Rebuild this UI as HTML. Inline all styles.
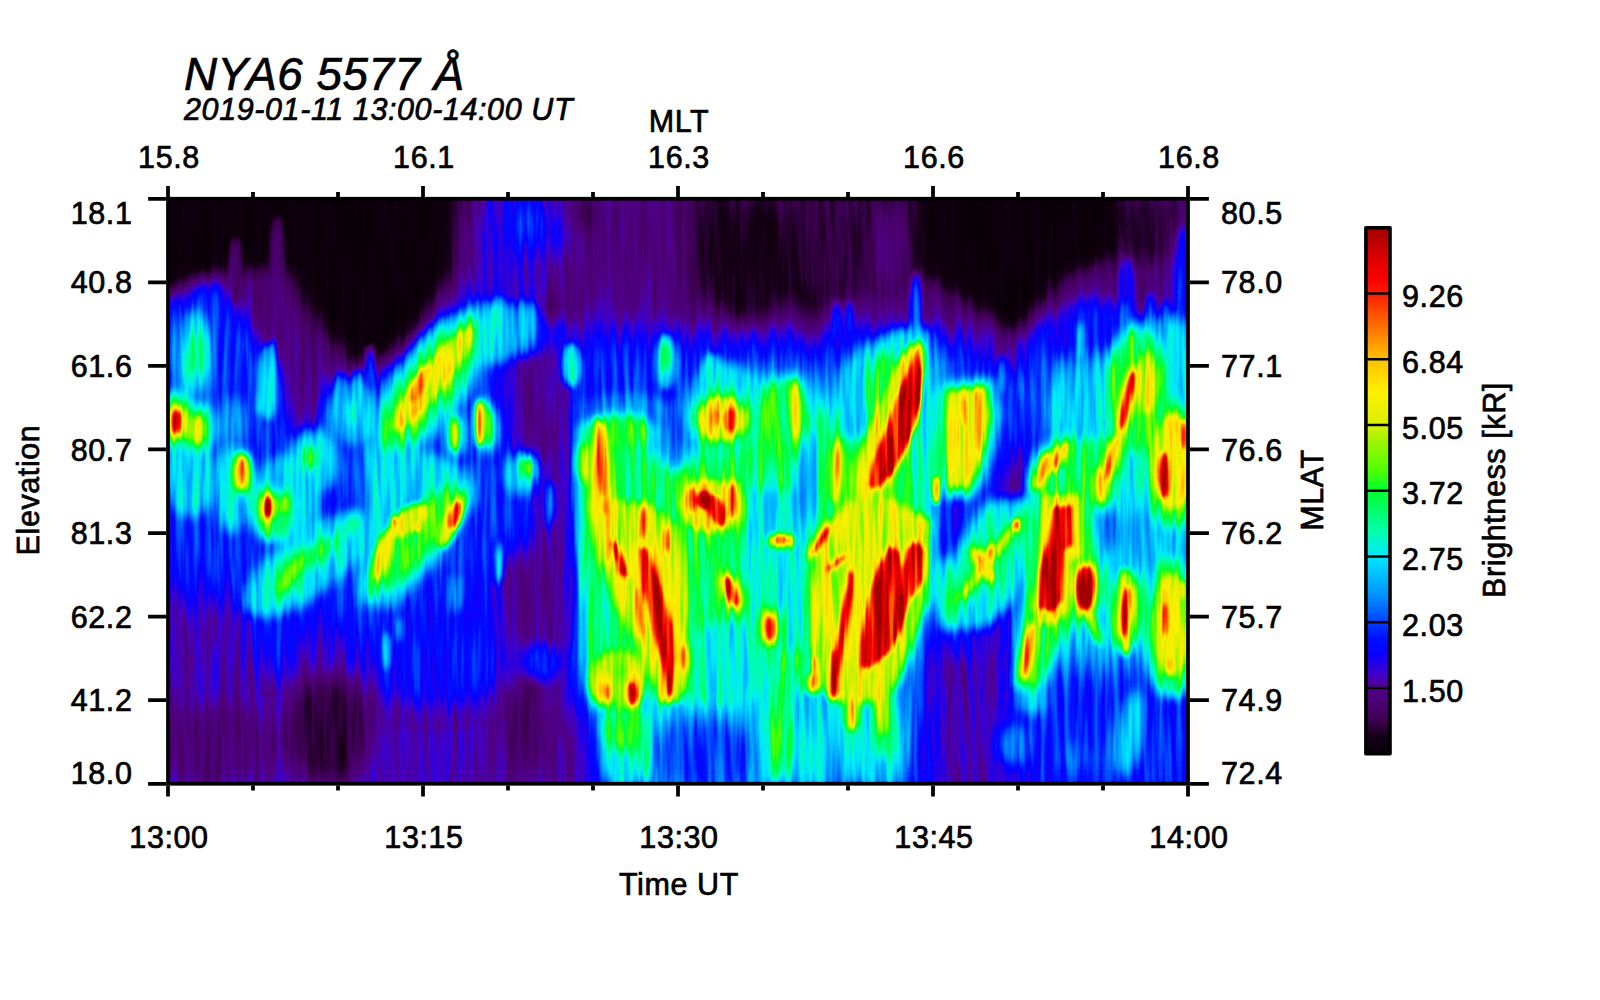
<!DOCTYPE html>
<html lang="en"><head><meta charset="utf-8"><title>NYA6 5577 keogram</title>
<style>html,body{margin:0;padding:0;background:#fff}body{width:1600px;height:1000px;overflow:hidden}svg{display:block}text{font-family:"Liberation Sans", sans-serif;fill:#000;stroke:#000;stroke-width:0.7px;letter-spacing:0.6px}</style></head><body>
<svg width="1600" height="1000" viewBox="0 0 1600 1000">
<rect width="1600" height="1000" fill="#fff"/>
<defs>
<filter id="cm" x="0" y="0" width="1" height="1" color-interpolation-filters="sRGB">
<feTurbulence type="fractalNoise" baseFrequency="0.17 0.011" numOctaves="2" seed="7" result="n0"/>
<feColorMatrix in="n0" type="matrix" values="2.2 0 0 0 -0.6 2.2 0 0 0 -0.6 2.2 0 0 0 -0.6 0 0 0 0 1" result="n1"/>
<feComposite in="SourceGraphic" in2="n1" operator="arithmetic" k1="0.24" k2="0.88" k3="0.025" k4="-0.0125" result="f"/>
<feComponentTransfer in="f"><feFuncR type="table" tableValues="0.039 0.060 0.084 0.158 0.225 0.262 0.293 0.303 0.314 0.284 0.230 0.138 0.046 0.018 0.001 0.000 0.000 0.000 0.000 0.000 0.000 0.000 0.000 0.000 0.000 0.000 0.000 0.000 0.000 0.000 0.000 0.000 0.000 0.123 0.245 0.353 0.443 0.533 0.623 0.729 0.847 0.884 0.921 0.957 0.994 1.000 1.000 1.000 1.000 1.000 1.000 1.000 1.000 1.000 1.000 1.000 1.000 1.000 0.981 0.934 0.886 0.824 0.758 0.693 0.627"/><feFuncG type="table" tableValues="0.000 0.000 0.000 0.000 0.000 0.000 0.000 0.000 0.000 0.000 0.000 0.000 0.000 0.027 0.060 0.153 0.251 0.349 0.447 0.545 0.622 0.694 0.766 0.838 0.910 0.941 0.972 1.000 1.000 1.000 1.000 1.000 1.000 1.000 1.000 0.995 0.984 0.973 0.961 0.951 0.941 0.941 0.941 0.941 0.941 0.900 0.851 0.802 0.753 0.675 0.596 0.518 0.437 0.355 0.273 0.192 0.118 0.044 0.000 0.000 0.000 0.000 0.000 0.000 0.000"/><feFuncB type="table" tableValues="0.031 0.056 0.087 0.198 0.301 0.371 0.435 0.484 0.533 0.690 0.818 0.902 0.987 1.000 1.000 1.000 1.000 1.000 1.000 1.000 1.000 1.000 1.000 1.000 1.000 0.892 0.785 0.678 0.580 0.482 0.384 0.286 0.188 0.115 0.041 0.000 0.000 0.000 0.000 0.000 0.000 0.000 0.000 0.000 0.000 0.000 0.000 0.000 0.000 0.000 0.000 0.000 0.000 0.000 0.000 0.000 0.000 0.000 0.000 0.000 0.000 0.000 0.000 0.000 0.000"/></feComponentTransfer></filter>
<filter id="b2" x="-10%" y="-10%" width="120%" height="120%" filterUnits="objectBoundingBox" color-interpolation-filters="sRGB"><feGaussianBlur stdDeviation="2"/></filter>
<filter id="b3" x="-10%" y="-10%" width="120%" height="120%" filterUnits="objectBoundingBox" color-interpolation-filters="sRGB"><feGaussianBlur stdDeviation="3"/></filter>
<filter id="b4" x="-10%" y="-10%" width="120%" height="120%" filterUnits="objectBoundingBox" color-interpolation-filters="sRGB"><feGaussianBlur stdDeviation="4"/></filter>
<filter id="b6" x="-10%" y="-10%" width="120%" height="120%" filterUnits="objectBoundingBox" color-interpolation-filters="sRGB"><feGaussianBlur stdDeviation="6"/></filter>
<filter id="b10" x="-10%" y="-10%" width="120%" height="120%" filterUnits="objectBoundingBox" color-interpolation-filters="sRGB"><feGaussianBlur stdDeviation="10"/></filter>
<filter id="b18" x="-10%" y="-10%" width="120%" height="120%" filterUnits="objectBoundingBox" color-interpolation-filters="sRGB"><feGaussianBlur stdDeviation="18"/></filter>
<filter id="b28" x="-10%" y="-10%" width="120%" height="120%" filterUnits="objectBoundingBox" color-interpolation-filters="sRGB"><feGaussianBlur stdDeviation="28"/></filter>
<clipPath id="hc"><rect x="168" y="198.75" width="1020" height="585"/></clipPath>
<linearGradient id="cb" x1="0" y1="1" x2="0" y2="0">
<stop offset="0.0000" stop-color="#0a0008"/>
<stop offset="0.0300" stop-color="#140014"/>
<stop offset="0.0600" stop-color="#38004a"/>
<stop offset="0.0900" stop-color="#4a006c"/>
<stop offset="0.1250" stop-color="#500088"/>
<stop offset="0.1500" stop-color="#4400c8"/>
<stop offset="0.1900" stop-color="#0800ff"/>
<stop offset="0.2200" stop-color="#0010ff"/>
<stop offset="0.2500" stop-color="#0040ff"/>
<stop offset="0.3000" stop-color="#0090ff"/>
<stop offset="0.3750" stop-color="#00e8ff"/>
<stop offset="0.4200" stop-color="#00ffb0"/>
<stop offset="0.5000" stop-color="#00ff30"/>
<stop offset="0.5400" stop-color="#50ff00"/>
<stop offset="0.6000" stop-color="#a8f400"/>
<stop offset="0.6250" stop-color="#d8f000"/>
<stop offset="0.6900" stop-color="#fff000"/>
<stop offset="0.7500" stop-color="#ffc000"/>
<stop offset="0.8000" stop-color="#ff8000"/>
<stop offset="0.8600" stop-color="#ff3000"/>
<stop offset="0.9000" stop-color="#ff0000"/>
<stop offset="0.9400" stop-color="#e00000"/>
<stop offset="1.0000" stop-color="#a00000"/>
</linearGradient>
</defs>
<g clip-path="url(#hc)"><g filter="url(#cm)">
<rect x="150" y="180" width="1060" height="625" fill="#242424"/>
<g filter="url(#b18)"><rect x="60" y="90" width="1240" height="800" fill="none"/>
<polygon points="150,180 1210,180 1210,335 150,335" fill="#1a1a1a"/>
<polygon points="150,300 200,285 250,300 300,345 345,385 390,350 440,300 470,280 560,300 560,335 1210,335 1210,420 560,420 545,470 545,540 505,560 500,640 490,680 430,690 375,680 340,625 300,622 285,655 262,655 250,598 150,590" fill="#3c3c3c"/>
<polygon points="556,180 680,180 680,335 556,335" fill="#1d1d1d"/>
<ellipse cx="517" cy="226" rx="40" ry="46" fill="#343434"/>
<ellipse cx="503" cy="288" rx="34" ry="30" fill="#292929"/>
<polygon points="580,415 640,412 650,440 695,445 700,395 760,385 800,380 800,420 820,420 830,400 870,360 930,350 935,430 932,560 922,630 900,690 860,705 800,700 700,700 640,715 598,715 582,640 577,520" fill="#7a7a7a"/>
<polygon points="1030,400 1080,350 1130,330 1210,330 1210,665 1120,660 1040,680 1015,640 1030,560 1060,500 1040,450" fill="#5c5c5c"/>
<polygon points="598,700 920,690 915,800 600,800" fill="#575757"/>
<polygon points="1005,665 1210,660 1210,800 1005,800" fill="#3b3b3b"/>
<polygon points="922,622 1003,622 1008,800 920,800" fill="#242424"/>
</g>
<g filter="url(#b10)"><rect x="60" y="90" width="1240" height="800" fill="none"/>
<ellipse cx="528" cy="222" rx="8" ry="14" fill="#454545"/>
<polygon points="222,282 250,328 282,372 292,430 306,436 322,410 328,372 365,376 398,362 432,328 445,300 300,285" fill="#1c1c1c"/>
<polygon points="150,180 462,180 456,262 438,300 412,330 385,355 362,368 340,352 318,325 300,295 292,272 264,266 250,272 222,270 205,284 175,294 150,296" fill="#020202"/>
<polygon points="921,180 1122,180 1117,256 1100,264 1078,270 1056,284 1038,308 1012,338 990,318 965,300 940,285 921,272" fill="#020202"/>
<polygon points="684,180 921,180 921,296 860,300 800,305 740,310 690,300" fill="#0f0f0f"/>
<ellipse cx="750" cy="262" rx="50" ry="60" fill="#080808"/>
<ellipse cx="812" cy="285" rx="16" ry="34" fill="#0a0a0a"/>
<ellipse cx="838" cy="262" rx="36" ry="42" fill="#0e0e0e"/>
<ellipse cx="585" cy="212" rx="12" ry="18" fill="#0d0d0d"/>
<ellipse cx="1150" cy="228" rx="32" ry="36" fill="#0b0b0b"/>
<ellipse cx="890" cy="245" rx="10" ry="40" fill="#292929"/>
<ellipse cx="328" cy="730" rx="40" ry="56" fill="#0d0d0d"/>
<ellipse cx="535" cy="725" rx="30" ry="50" fill="#121212"/>
<ellipse cx="215" cy="745" rx="60" ry="40" fill="#1a1a1a"/>
<ellipse cx="541" cy="232" rx="7" ry="26" fill="#404040"/>
<ellipse cx="205" cy="365" rx="46" ry="85" fill="#3c3c3c"/>
<polygon points="505,352 572,342 572,650 505,650 505,560 545,540 545,470 505,440" fill="#212121"/>
<polygon points="975,320 1015,338 1020,372 995,372" fill="#1f1f1f"/>
<ellipse cx="1006" cy="432.5" rx="18" ry="40.8" fill="#383838" transform="rotate(23.1 1006 432.5)"/>
<ellipse cx="970" cy="515" rx="18" ry="49.2" fill="#3b3b3b" transform="rotate(24 970 515)"/>
<ellipse cx="957.5" cy="610" rx="22" ry="50.6" fill="#363636" transform="rotate(-8.5 957.5 610)"/>
<polygon points="1040,320 1075,302 1112,298 1140,320 1195,322 1195,348 1040,348" fill="#363636"/>
<ellipse cx="1181.5" cy="267.5" rx="7" ry="52.5" fill="#3b3b3b" transform="rotate(1.6 1181.5 267.5)"/>
<ellipse cx="705" cy="755" rx="55" ry="40" fill="#404040"/>
<polygon points="538,400 560,400 560,800 538,800" fill="#212121"/>
<ellipse cx="275" cy="640" rx="18" ry="40" fill="#383838"/>
<ellipse cx="435" cy="655" rx="62" ry="50" fill="#363636"/>
<ellipse cx="552" cy="306" rx="12" ry="14" fill="#0f0f0f"/>
</g>
<g filter="url(#b6)"><rect x="60" y="90" width="1240" height="800" fill="none"/>
<ellipse cx="194" cy="352" rx="17" ry="42" fill="#626262"/>
<ellipse cx="190" cy="475" rx="25" ry="42" fill="#5e5e5e"/>
<ellipse cx="232" cy="488" rx="19" ry="44" fill="#5e5e5e"/>
<ellipse cx="232" cy="420" rx="12" ry="24" fill="#525252"/>
<ellipse cx="285" cy="500" rx="33" ry="44" fill="#5e5e5e"/>
<ellipse cx="314" cy="462" rx="25" ry="32" fill="#5e5e5e"/>
<ellipse cx="353" cy="412" rx="24" ry="32" fill="#595959"/>
<ellipse cx="430" cy="385" rx="36" ry="88.5" fill="#5e5e5e" transform="rotate(-145.6 430 385)"/>
<polygon points="472,303 506,304 506,362 470,366" fill="#5e5e5e"/>
<polygon points="506,306 536,308 536,350 506,358" fill="#4c4c4c"/>
<polygon points="365,445 400,440 470,470 474,500 440,560 390,608 360,602 363,520" fill="#5e5e5e"/>
<ellipse cx="306" cy="565" rx="31" ry="74.2" fill="#5e5e5e" transform="rotate(-127.3 306 565)"/>
<ellipse cx="520" cy="475" rx="16" ry="20" fill="#5e5e5e"/>
<polygon points="842,372 870,345 900,330 930,330 930,440 842,440" fill="#5e5e5e"/>
<ellipse cx="725" cy="408" rx="38" ry="44" fill="#5e5e5e"/>
<ellipse cx="1150" cy="340" rx="30" ry="22" fill="#545454"/>
<ellipse cx="1178" cy="345" rx="10" ry="32" fill="#5e5e5e"/>
<ellipse cx="542" cy="662" rx="20" ry="18" fill="#393939"/>
<ellipse cx="1032" cy="700" rx="14" ry="14" fill="#575757"/>
<ellipse cx="1017" cy="745" rx="18" ry="21" fill="#4a4a4a"/>
<ellipse cx="1075" cy="757" rx="20" ry="14" fill="#424242"/>
<ellipse cx="1129" cy="733" rx="12" ry="42" fill="#5e5e5e" transform="rotate(8 1129 733)"/>
<ellipse cx="818" cy="735" rx="22" ry="50" fill="#5e5e5e"/>
<ellipse cx="880" cy="742" rx="22" ry="40" fill="#5e5e5e"/>
<ellipse cx="622" cy="748" rx="24" ry="40" fill="#5e5e5e"/>
<ellipse cx="975" cy="610" rx="20" ry="10" fill="#595959"/>
<polygon points="742,490 815,490 812,650 745,650" fill="#636363"/>
<ellipse cx="725" cy="660" rx="38" ry="40" fill="#636363"/>
<ellipse cx="675" cy="435" rx="16" ry="36" fill="#4a4a4a"/>
<ellipse cx="630" cy="408" rx="45" ry="12" fill="#4f4f4f"/>
<ellipse cx="808" cy="475" rx="13" ry="50" fill="#545454"/>
<ellipse cx="777" cy="580" rx="25" ry="32" fill="#616161"/>
<polygon points="945,602 958,545 988,502 1030,496 1036,560 1012,602 985,628 950,628" fill="#636363"/>
<ellipse cx="1108" cy="530" rx="14" ry="22" fill="#4c4c4c"/>
<ellipse cx="1140" cy="540" rx="12" ry="30" fill="#4f4f4f"/>
<polygon points="581,428 602,420 604,705 594,708 584,640 579,520" fill="#787878"/>
<ellipse cx="177" cy="422" rx="24" ry="32" fill="#5e5e5e"/>
<ellipse cx="197" cy="430" rx="20" ry="30" fill="#5e5e5e"/>
<ellipse cx="946.5" cy="593.5" rx="12" ry="39.5" fill="#5e5e5e" transform="rotate(-2.7 946.5 593.5)"/>
</g>
<g filter="url(#b3)"><rect x="60" y="90" width="1240" height="800" fill="none"/>
<ellipse cx="235" cy="270" rx="7" ry="34" fill="#171717"/>
<ellipse cx="278" cy="258" rx="7" ry="44" fill="#1a1a1a"/>
<ellipse cx="1182" cy="275" rx="4.5" ry="50" fill="#3c3c3c" transform="rotate(1.1 1182 275)"/>
<ellipse cx="1126.5" cy="289" rx="6.5" ry="33" fill="#373737" transform="rotate(0.9 1126.5 289)"/>
<ellipse cx="271" cy="366" rx="2.5" ry="26" fill="#666666" transform="rotate(2.2 271 366)"/>
<ellipse cx="259.5" cy="400" rx="2.5" ry="15" fill="#616161" transform="rotate(1.9 259.5 400)"/>
<ellipse cx="369.5" cy="365" rx="2.5" ry="20" fill="#5e5e5e" transform="rotate(1.4 369.5 365)"/>
<ellipse cx="522" cy="321.5" rx="2.5" ry="23.5" fill="#5e5e5e"/>
<ellipse cx="531" cy="320" rx="2" ry="20" fill="#5c5c5c"/>
<ellipse cx="512" cy="325" rx="2" ry="25" fill="#5c5c5c"/>
<ellipse cx="500" cy="305" rx="2" ry="10" fill="#5e5e5e"/>
<ellipse cx="548" cy="505" rx="2" ry="25" fill="#545454"/>
<ellipse cx="553" cy="501" rx="1.5" ry="19" fill="#545454"/>
<ellipse cx="497" cy="568.5" rx="2" ry="18.5" fill="#666666"/>
<ellipse cx="451" cy="595" rx="2" ry="20" fill="#5c5c5c" transform="rotate(-2.9 451 595)"/>
<ellipse cx="460" cy="593.5" rx="2" ry="18.5" fill="#5c5c5c"/>
<ellipse cx="400" cy="629.5" rx="2" ry="12.5" fill="#616161"/>
<ellipse cx="387" cy="651" rx="2.5" ry="19" fill="#737373"/>
<ellipse cx="837" cy="320" rx="3" ry="20" fill="#4c4c4c"/>
<ellipse cx="915.5" cy="308.5" rx="3.5" ry="36.5" fill="#5e5e5e" transform="rotate(0.8 915.5 308.5)"/>
<ellipse cx="1001" cy="373.5" rx="2.5" ry="18.5" fill="#5e5e5e" transform="rotate(3.1 1001 373.5)"/>
<ellipse cx="1124.5" cy="322.5" rx="3.5" ry="22.5" fill="#5e5e5e" transform="rotate(1.3 1124.5 322.5)"/>
<ellipse cx="1150" cy="311" rx="2.5" ry="19" fill="#545454"/>
<ellipse cx="1165" cy="317.5" rx="2.5" ry="17.5" fill="#545454"/>
<ellipse cx="1080" cy="341" rx="2" ry="19" fill="#737373"/>
<ellipse cx="849.5" cy="317.5" rx="2.5" ry="17.5" fill="#474747" transform="rotate(1.6 849.5 317.5)"/>
<ellipse cx="500" cy="561" rx="2" ry="19" fill="#737373"/>
<ellipse cx="571" cy="365" rx="9" ry="22" fill="#666666"/>
<ellipse cx="268" cy="382" rx="10" ry="38" fill="#5c5c5c"/>
<ellipse cx="339.5" cy="396" rx="3" ry="24" fill="#5c5c5c" transform="rotate(1.2 339.5 396)"/>
<ellipse cx="357.5" cy="399" rx="3.5" ry="31" fill="#5c5c5c" transform="rotate(0.9 357.5 399)"/>
<ellipse cx="666" cy="362" rx="9" ry="28" fill="#666666"/>
<ellipse cx="666" cy="358" rx="4" ry="14" fill="#808080"/>
<ellipse cx="712" cy="375" rx="10" ry="22" fill="#636363"/>
</g>
<g filter="url(#b6)"><rect x="60" y="90" width="1240" height="800" fill="none"/>
<ellipse cx="177" cy="422" rx="15" ry="23" fill="#828282"/>
<ellipse cx="197" cy="430" rx="11" ry="21" fill="#828282"/>
<ellipse cx="196" cy="352.5" rx="7.5" ry="22.5" fill="#828282"/>
<ellipse cx="242.5" cy="476" rx="7" ry="24" fill="#828282" transform="rotate(-1.2 242.5 476)"/>
<ellipse cx="268.5" cy="507" rx="15" ry="21" fill="#828282" transform="rotate(2.9 268.5 507)"/>
<ellipse cx="283.5" cy="504.5" rx="9.5" ry="15.5" fill="#828282" transform="rotate(3 283.5 504.5)"/>
<ellipse cx="273" cy="515" rx="19" ry="24" fill="#828282"/>
<ellipse cx="310" cy="457.5" rx="6" ry="14.5" fill="#828282"/>
<ellipse cx="350" cy="411.5" rx="4" ry="13.5" fill="#828282"/>
<ellipse cx="431.5" cy="383" rx="24" ry="79.9" fill="#828282" transform="rotate(-144.4 431.5 383)"/>
<ellipse cx="455" cy="435" rx="8.5" ry="21" fill="#828282"/>
<ellipse cx="487" cy="426" rx="9" ry="26" fill="#828282" transform="rotate(-2.2 487 426)"/>
<ellipse cx="288.5" cy="575" rx="10" ry="24.9" fill="#828282" transform="rotate(-157.6 288.5 575)"/>
<ellipse cx="319" cy="552" rx="9" ry="23.6" fill="#828282" transform="rotate(-126.4 319 552)"/>
<ellipse cx="350.5" cy="525" rx="6" ry="15" fill="#828282" transform="rotate(-150 350.5 525)"/>
<ellipse cx="418" cy="537.5" rx="19" ry="72.6" fill="#828282" transform="rotate(-138.6 418 537.5)"/>
<ellipse cx="527" cy="467" rx="6" ry="13" fill="#828282"/>
<ellipse cx="620" cy="432" rx="35" ry="18" fill="#828282"/>
<ellipse cx="722" cy="420" rx="32" ry="30" fill="#828282"/>
<ellipse cx="795" cy="411" rx="10" ry="35" fill="#828282"/>
<ellipse cx="783" cy="420" rx="22" ry="42" fill="#828282"/>
<ellipse cx="885" cy="400" rx="20" ry="48" fill="#828282"/>
<ellipse cx="682.5" cy="658" rx="12.5" ry="22" fill="#828282" transform="rotate(-2.4 682.5 658)"/>
<ellipse cx="710" cy="506" rx="40" ry="36" fill="#828282"/>
<ellipse cx="731" cy="591.5" rx="16" ry="26.3" fill="#828282" transform="rotate(-19 731 591.5)"/>
<ellipse cx="770" cy="628.5" rx="15" ry="23.5" fill="#828282"/>
<ellipse cx="625" cy="725" rx="22" ry="26" fill="#828282"/>
<ellipse cx="779" cy="728.5" rx="13" ry="53.5" fill="#828282"/>
<ellipse cx="853" cy="747" rx="5" ry="35" fill="#828282"/>
<ellipse cx="640" cy="748.5" rx="7" ry="33.5" fill="#828282"/>
<ellipse cx="835.5" cy="471.5" rx="12.5" ry="37.6" fill="#828282" transform="rotate(4.5 835.5 471.5)"/>
<ellipse cx="883" cy="705" rx="11" ry="55" fill="#828282" transform="rotate(-1 883 705)"/>
<ellipse cx="936" cy="440" rx="12" ry="50" fill="#707070"/>
<polygon points="942,385 992,380 999,415 993,445 983,478 970,497 946,497 940,450 939,420" fill="#828282"/>
<ellipse cx="989.5" cy="560" rx="10.5" ry="55.7" fill="#828282" transform="rotate(-143.6 989.5 560)"/>
<ellipse cx="989.5" cy="561" rx="15" ry="58.3" fill="#757575" transform="rotate(-143.7 989.5 561)"/>
<ellipse cx="1042.5" cy="471" rx="12.5" ry="26.9" fill="#828282" transform="rotate(-161 1042.5 471)"/>
<ellipse cx="1058.5" cy="457.5" rx="12.5" ry="24.1" fill="#828282" transform="rotate(-152.5 1058.5 457.5)"/>
<ellipse cx="946.5" cy="593.5" rx="4" ry="31.5" fill="#828282" transform="rotate(-2.7 946.5 593.5)"/>
<ellipse cx="982.5" cy="565" rx="12.5" ry="25" fill="#828282" transform="rotate(-30 982.5 565)"/>
<ellipse cx="969" cy="591" rx="4" ry="9.1" fill="#828282" transform="rotate(-6.3 969 591)"/>
<ellipse cx="1075" cy="466" rx="45" ry="24" fill="#787878" transform="rotate(-20 1075 466)"/>
<polygon points="1034,480 1092,480 1094,565 1080,575 1076,622 1060,638 1040,690 1014,688 1022,600 1030,540" fill="#828282"/>
<ellipse cx="1085.5" cy="588" rx="19.5" ry="33" fill="#828282" transform="rotate(1.3 1085.5 588)"/>
<ellipse cx="1101" cy="485" rx="12.5" ry="25" fill="#828282"/>
<ellipse cx="1138" cy="390" rx="32" ry="62" fill="#828282"/>
<ellipse cx="1111" cy="459" rx="12.5" ry="34" fill="#828282" transform="rotate(16.9 1111 459)"/>
<ellipse cx="1172" cy="465" rx="28" ry="62" fill="#828282"/>
<ellipse cx="1125.5" cy="612" rx="15" ry="37.1" fill="#828282" transform="rotate(-174.5 1125.5 612)"/>
<ellipse cx="1172" cy="628" rx="26" ry="70" fill="#828282"/>
</g>
<g filter="url(#b4)"><rect x="60" y="90" width="1240" height="800" fill="none"/>
<polygon points="592,500 615,500 650,505 680,525 686,600 686,690 660,700 640,650 612,600 598,560" fill="#9e9e9e"/>
<ellipse cx="586" cy="462" rx="8" ry="20" fill="#9e9e9e"/>
<ellipse cx="618" cy="680" rx="28" ry="30" fill="#999999"/>
<polygon points="815,540 850,500 872,490 930,520 929,600 916,632 900,680 880,700 850,705 820,690 808,640 810,580" fill="#a1a1a1"/>
<ellipse cx="884" cy="448.5" rx="22" ry="61.4" fill="#9e9e9e" transform="rotate(-157 884 448.5)"/>
</g>
<g filter="url(#b3)"><rect x="60" y="90" width="1240" height="800" fill="none"/>
<ellipse cx="177" cy="422" rx="8.5" ry="17" fill="#adadad"/>
<ellipse cx="197" cy="430" rx="5" ry="15" fill="#adadad"/>
<ellipse cx="242" cy="473" rx="7.5" ry="20" fill="#adadad"/>
<ellipse cx="268.5" cy="507" rx="8.5" ry="15" fill="#adadad" transform="rotate(2.9 268.5 507)"/>
<ellipse cx="283.5" cy="504.5" rx="3.5" ry="9.5" fill="#adadad" transform="rotate(3 283.5 504.5)"/>
<ellipse cx="310" cy="457.5" rx="2.5" ry="10.5" fill="#9e9e9e"/>
<ellipse cx="433" cy="379" rx="13.5" ry="63.6" fill="#adadad" transform="rotate(-143.3 433 379)"/>
<ellipse cx="455" cy="435" rx="2.5" ry="15" fill="#adadad"/>
<ellipse cx="490" cy="427.5" rx="2" ry="17.5" fill="#a3a3a3"/>
<ellipse cx="480" cy="423" rx="4" ry="23" fill="#adadad"/>
<ellipse cx="289.5" cy="576" rx="3.5" ry="14.7" fill="#9c9c9c" transform="rotate(-162.2 289.5 576)"/>
<ellipse cx="383.5" cy="554" rx="8" ry="27.1" fill="#b2b2b2" transform="rotate(-163.9 383.5 554)"/>
<ellipse cx="408" cy="520.5" rx="11" ry="21.6" fill="#b2b2b2" transform="rotate(-132.2 408 520.5)"/>
<ellipse cx="451.5" cy="520" rx="8" ry="30.3" fill="#adadad" transform="rotate(-157.7 451.5 520)"/>
<ellipse cx="527" cy="467" rx="3" ry="8" fill="#9e9e9e"/>
<ellipse cx="722" cy="419" rx="24" ry="21" fill="#adadad"/>
<ellipse cx="795" cy="411" rx="4" ry="29" fill="#adadad"/>
<ellipse cx="602" cy="491.5" rx="10.5" ry="73.6" fill="#adadad" transform="rotate(-3.1 602 491.5)"/>
<ellipse cx="619.5" cy="558.5" rx="8" ry="25" fill="#adadad" transform="rotate(-22.1 619.5 558.5)"/>
<ellipse cx="642" cy="523.5" rx="6.8" ry="21.5" fill="#adadad"/>
<polygon points="634,542 652,542 668,585 680,625 684,660 680,702 662,702 655,668 645,635 636,592" fill="#adadad"/>
<ellipse cx="667" cy="539.5" rx="6.8" ry="17.5" fill="#adadad"/>
<ellipse cx="638" cy="611.5" rx="6.5" ry="28.6" fill="#adadad" transform="rotate(-4.7 638 611.5)"/>
<ellipse cx="621" cy="565.5" rx="7.5" ry="15.5" fill="#adadad" transform="rotate(-5.4 621 565.5)"/>
<ellipse cx="631" cy="690" rx="10" ry="18" fill="#adadad"/>
<ellipse cx="607" cy="688" rx="9" ry="14" fill="#adadad"/>
<ellipse cx="682.5" cy="658" rx="6.5" ry="16" fill="#adadad" transform="rotate(-2.4 682.5 658)"/>
<ellipse cx="692" cy="500" rx="7.5" ry="18" fill="#adadad"/>
<ellipse cx="717" cy="510.5" rx="12.5" ry="21.3" fill="#adadad" transform="rotate(-17.9 717 510.5)"/>
<ellipse cx="731.5" cy="501" rx="7" ry="22" fill="#adadad" transform="rotate(1.7 731.5 501)"/>
<ellipse cx="710" cy="506" rx="30" ry="26" fill="#adadad"/>
<ellipse cx="731" cy="591.5" rx="9.5" ry="20.3" fill="#adadad" transform="rotate(-19 731 591.5)"/>
<ellipse cx="770" cy="628.5" rx="8.5" ry="17.5" fill="#adadad"/>
<ellipse cx="781" cy="541" rx="14" ry="7" fill="#adadad"/>
<ellipse cx="886.5" cy="412.5" rx="6" ry="33.1" fill="#adadad" transform="rotate(-146.1 886.5 412.5)"/>
<ellipse cx="835.5" cy="471.5" rx="6.5" ry="31.6" fill="#adadad" transform="rotate(4.5 835.5 471.5)"/>
<ellipse cx="821" cy="540.5" rx="7" ry="22.1" fill="#adadad" transform="rotate(-148.2 821 540.5)"/>
<ellipse cx="837" cy="562.5" rx="7.5" ry="16.7" fill="#adadad" transform="rotate(-129.8 837 562.5)"/>
<ellipse cx="850" cy="585" rx="6.8" ry="20" fill="#adadad"/>
<ellipse cx="893" cy="420" rx="18" ry="82.2" fill="#adadad" transform="rotate(-161.6 893 420)"/>
<ellipse cx="880" cy="607.5" rx="23" ry="69.9" fill="#adadad" transform="rotate(-165.1 880 607.5)"/>
<ellipse cx="912" cy="569" rx="14" ry="31.6" fill="#adadad" transform="rotate(-169 912 569)"/>
<ellipse cx="842" cy="634" rx="8.5" ry="67.8" fill="#adadad" transform="rotate(9.2 842 634)"/>
<ellipse cx="852" cy="713" rx="6.2" ry="19" fill="#adadad"/>
<ellipse cx="812" cy="683" rx="7" ry="11" fill="#adadad"/>
<ellipse cx="883" cy="695" rx="6" ry="40" fill="#a8a8a8" transform="rotate(-1.4 883 695)"/>
<polygon points="950,392 985,388 990,415 985,440 975,470 965,487 952,487 948,450 947,420" fill="#b0b0b0"/>
<ellipse cx="989.5" cy="560" rx="4.5" ry="49.7" fill="#adadad" transform="rotate(-143.6 989.5 560)"/>
<ellipse cx="984.5" cy="561.5" rx="6.5" ry="19.4" fill="#adadad" transform="rotate(-150.9 984.5 561.5)"/>
<ellipse cx="1042.5" cy="471" rx="6.5" ry="20.9" fill="#adadad" transform="rotate(-161 1042.5 471)"/>
<ellipse cx="1058.5" cy="457.5" rx="6.5" ry="18.1" fill="#adadad" transform="rotate(-152.5 1058.5 457.5)"/>
<ellipse cx="982.5" cy="565" rx="6.5" ry="19" fill="#adadad" transform="rotate(-30 982.5 565)"/>
<polygon points="1044,495 1080,495 1082,555 1070,560 1067,612 1052,624 1038,624 1032,606 1040,540" fill="#adadad"/>
<ellipse cx="1028.5" cy="650.5" rx="7" ry="29.9" fill="#adadad" transform="rotate(10 1028.5 650.5)"/>
<ellipse cx="1085.5" cy="588" rx="13" ry="27" fill="#adadad" transform="rotate(1.3 1085.5 588)"/>
<ellipse cx="1093" cy="622.5" rx="4" ry="23.6" fill="#a3a3a3" transform="rotate(-17.3 1093 622.5)"/>
<ellipse cx="1101" cy="485" rx="6.5" ry="19" fill="#adadad"/>
<ellipse cx="1147" cy="382" rx="9" ry="32" fill="#a3a3a3"/>
<ellipse cx="1127" cy="403" rx="8.5" ry="37.9" fill="#adadad" transform="rotate(-167.8 1127 403)"/>
<ellipse cx="1111" cy="459" rx="6.5" ry="28" fill="#adadad" transform="rotate(16.9 1111 459)"/>
<ellipse cx="1172" cy="462" rx="19" ry="48" fill="#adadad"/>
<ellipse cx="1125.5" cy="612" rx="8.5" ry="31.1" fill="#adadad" transform="rotate(-174.5 1125.5 612)"/>
<ellipse cx="1125" cy="611.5" rx="8" ry="43.5" fill="#a8a8a8"/>
<ellipse cx="1172" cy="625" rx="18" ry="52" fill="#a8a8a8"/>
</g>
<g filter="url(#b2)"><rect x="60" y="90" width="1240" height="800" fill="none"/>
<ellipse cx="177" cy="422" rx="4" ry="12" fill="#f2f2f2"/>
<ellipse cx="242" cy="473" rx="3" ry="15" fill="#f2f2f2"/>
<ellipse cx="268.5" cy="507" rx="4" ry="10" fill="#f2f2f2" transform="rotate(2.9 268.5 507)"/>
<ellipse cx="420.5" cy="384" rx="7" ry="20.8" fill="#c2c2c2" transform="rotate(-149.7 420.5 384)"/>
<ellipse cx="421" cy="385" rx="3" ry="8.1" fill="#c9c9c9" transform="rotate(-150.3 421 385)"/>
<ellipse cx="480" cy="423" rx="2" ry="21" fill="#cccccc"/>
<ellipse cx="395" cy="522" rx="3" ry="5" fill="#cfcfcf"/>
<ellipse cx="417" cy="527" rx="3" ry="5" fill="#cfcfcf"/>
<ellipse cx="455" cy="515" rx="5" ry="14.6" fill="#f2f2f2" transform="rotate(-164.1 455 515)"/>
<ellipse cx="730" cy="420" rx="9" ry="12" fill="#cfcfcf"/>
<ellipse cx="716" cy="418" rx="5" ry="9" fill="#c2c2c2"/>
<ellipse cx="602" cy="461" rx="3.5" ry="39" fill="#f2f2f2" transform="rotate(-1.5 602 461)"/>
<ellipse cx="603.5" cy="505" rx="2.5" ry="10" fill="#cfcfcf" transform="rotate(-2.9 603.5 505)"/>
<ellipse cx="619.5" cy="558.5" rx="3.5" ry="20" fill="#f2f2f2" transform="rotate(-22.1 619.5 558.5)"/>
<ellipse cx="642" cy="523.5" rx="2.2" ry="16.5" fill="#f2f2f2"/>
<polygon points="640,548 647,548 660,585 672,625 676,660 673,695 668,695 662,665 652,630 643,590" fill="#f2f2f2"/>
<ellipse cx="667" cy="539.5" rx="2.2" ry="12.5" fill="#f2f2f2"/>
<ellipse cx="638" cy="611.5" rx="2.5" ry="24.6" fill="#cfcfcf" transform="rotate(-4.7 638 611.5)"/>
<ellipse cx="621" cy="565.5" rx="3" ry="10.5" fill="#f2f2f2" transform="rotate(-5.4 621 565.5)"/>
<ellipse cx="631.5" cy="693.5" rx="5" ry="11.5" fill="#f2f2f2" transform="rotate(-2.5 631.5 693.5)"/>
<ellipse cx="607.5" cy="692" rx="4" ry="8" fill="#cfcfcf" transform="rotate(-3.6 607.5 692)"/>
<ellipse cx="682.5" cy="658" rx="2.5" ry="12" fill="#cfcfcf" transform="rotate(-2.4 682.5 658)"/>
<ellipse cx="692" cy="500" rx="3" ry="13" fill="#f2f2f2"/>
<ellipse cx="717" cy="510.5" rx="8" ry="16.3" fill="#f2f2f2" transform="rotate(-17.9 717 510.5)"/>
<ellipse cx="704" cy="500" rx="8" ry="9" fill="#f2f2f2"/>
<ellipse cx="731.5" cy="501" rx="2.5" ry="17" fill="#f2f2f2" transform="rotate(1.7 731.5 501)"/>
<ellipse cx="731" cy="591.5" rx="5" ry="15.3" fill="#f2f2f2" transform="rotate(-19 731 591.5)"/>
<ellipse cx="770" cy="628.5" rx="4" ry="12.5" fill="#f2f2f2"/>
<ellipse cx="781" cy="540" rx="9" ry="4" fill="#cfcfcf"/>
<ellipse cx="816" cy="671.5" rx="3" ry="16.5" fill="#cfcfcf" transform="rotate(-3.5 816 671.5)"/>
<ellipse cx="834" cy="674" rx="3.5" ry="24" fill="#dbdbdb" transform="rotate(-2.4 834 674)"/>
<ellipse cx="836" cy="466" rx="2" ry="16" fill="#c2c2c2" transform="rotate(3.6 836 466)"/>
<ellipse cx="821" cy="540.5" rx="2.5" ry="17.1" fill="#f2f2f2" transform="rotate(-148.2 821 540.5)"/>
<ellipse cx="837" cy="562.5" rx="3" ry="11.7" fill="#f2f2f2" transform="rotate(-129.8 837 562.5)"/>
<ellipse cx="850" cy="585" rx="2.2" ry="15" fill="#f2f2f2"/>
<polygon points="916,348 922,372 921,400 915,425 905,450 893,472 876,490 869,486 872,465 877,450 887,425 895,400 907,375" fill="#f2f2f2"/>
<polygon points="890,546 899,552 903,568 912,575 910,600 900,632 890,652 870,668 862,667 862,640 865,612 870,590 879,565" fill="#f2f2f2"/>
<polygon points="915,541 924,550 923,580 914,596 904,598 903,570 907,550" fill="#f2f2f2"/>
<ellipse cx="842" cy="634" rx="4" ry="62.8" fill="#f2f2f2" transform="rotate(9.2 842 634)"/>
<ellipse cx="852" cy="713" rx="2.2" ry="15" fill="#cfcfcf"/>
<ellipse cx="812" cy="683" rx="3" ry="7" fill="#cfcfcf"/>
<ellipse cx="936" cy="490" rx="3" ry="14" fill="#cfcfcf"/>
<ellipse cx="964.5" cy="411.5" rx="3.5" ry="13.5" fill="#cccccc" transform="rotate(2.1 964.5 411.5)"/>
<ellipse cx="984.5" cy="561.5" rx="2.5" ry="15.4" fill="#cfcfcf" transform="rotate(-150.9 984.5 561.5)"/>
<ellipse cx="1016" cy="525" rx="2.5" ry="6" fill="#f2f2f2"/>
<ellipse cx="1042.5" cy="471" rx="2.5" ry="16.9" fill="#cfcfcf" transform="rotate(-161 1042.5 471)"/>
<ellipse cx="1058.5" cy="457.5" rx="2.5" ry="14.1" fill="#cfcfcf" transform="rotate(-152.5 1058.5 457.5)"/>
<ellipse cx="982.5" cy="565" rx="2.5" ry="15" fill="#cfcfcf" transform="rotate(-30 982.5 565)"/>
<polygon points="1052,507 1072,505 1073,545 1064,550 1062,600 1052,612 1039,608 1040,570 1048,540" fill="#f2f2f2"/>
<ellipse cx="1028.5" cy="650.5" rx="3" ry="25.9" fill="#cfcfcf" transform="rotate(10 1028.5 650.5)"/>
<ellipse cx="1085.5" cy="588" rx="8.5" ry="22" fill="#f2f2f2" transform="rotate(1.3 1085.5 588)"/>
<ellipse cx="1101" cy="485" rx="2.5" ry="15" fill="#cfcfcf"/>
<ellipse cx="1127" cy="401" rx="4" ry="29.6" fill="#f2f2f2" transform="rotate(-168.3 1127 401)"/>
<ellipse cx="1111" cy="459" rx="2.5" ry="24" fill="#cfcfcf" transform="rotate(16.9 1111 459)"/>
<ellipse cx="1164.5" cy="475" rx="6" ry="23" fill="#f2f2f2" transform="rotate(-1.2 1164.5 475)"/>
<ellipse cx="1184" cy="435" rx="2.5" ry="15" fill="#f2f2f2"/>
<ellipse cx="1125.5" cy="612" rx="4" ry="26.1" fill="#f2f2f2" transform="rotate(-174.5 1125.5 612)"/>
<ellipse cx="1165" cy="620" rx="4" ry="17" fill="#cfcfcf"/>
<ellipse cx="1183" cy="590" rx="2.5" ry="10" fill="#cfcfcf"/>
<ellipse cx="1170" cy="666" rx="2.5" ry="9" fill="#cfcfcf"/>
</g>
</g></g>
<g stroke="#000" stroke-width="3.75" fill="none" stroke-linecap="butt">
<rect x="168.00" y="198.75" width="1020.00" height="585.00"/>
<path d="M168.00 196.88v-11.00M168.00 785.62v11.00M253.00 196.88v-5.00M253.00 785.62v5.00M338.00 196.88v-5.00M338.00 785.62v5.00M423.00 196.88v-11.00M423.00 785.62v11.00M508.00 196.88v-5.00M508.00 785.62v5.00M593.00 196.88v-5.00M593.00 785.62v5.00M678.00 196.88v-11.00M678.00 785.62v11.00M763.00 196.88v-5.00M763.00 785.62v5.00M848.00 196.88v-5.00M848.00 785.62v5.00M933.00 196.88v-11.00M933.00 785.62v11.00M1018.00 196.88v-5.00M1018.00 785.62v5.00M1103.00 196.88v-5.00M1103.00 785.62v5.00M1188.00 196.88v-11.00M1188.00 785.62v11.00M166.12 198.75h-18.00M1189.88 198.75h19.00M166.12 282.32h-18.00M1189.88 282.32h19.00M166.12 365.89h-18.00M1189.88 365.89h19.00M166.12 449.46h-18.00M1189.88 449.46h19.00M166.12 533.04h-18.00M1189.88 533.04h19.00M166.12 616.61h-18.00M1189.88 616.61h19.00M166.12 700.18h-18.00M1189.88 700.18h19.00M166.12 783.75h-18.00M1189.88 783.75h19.00"/>
</g>
<text x="184.0" y="89.5" font-size="45.7" text-anchor="start" font-style="italic">NYA6 5577 Å</text>
<text x="184.0" y="119.5" font-size="30.5" text-anchor="start" font-style="italic">2019-01-11 13:00-14:00 UT</text>
<text x="679.0" y="132.0" font-size="30.5" text-anchor="middle">MLT</text>
<text x="169.0" y="168.0" font-size="30.5" text-anchor="middle">15.8</text>
<text x="424.0" y="168.0" font-size="30.5" text-anchor="middle">16.1</text>
<text x="679.0" y="168.0" font-size="30.5" text-anchor="middle">16.3</text>
<text x="934.0" y="168.0" font-size="30.5" text-anchor="middle">16.6</text>
<text x="1189.0" y="168.0" font-size="30.5" text-anchor="middle">16.8</text>
<text x="169.0" y="848.0" font-size="30.5" text-anchor="middle">13:00</text>
<text x="424.0" y="848.0" font-size="30.5" text-anchor="middle">13:15</text>
<text x="679.0" y="848.0" font-size="30.5" text-anchor="middle">13:30</text>
<text x="934.0" y="848.0" font-size="30.5" text-anchor="middle">13:45</text>
<text x="1189.0" y="848.0" font-size="30.5" text-anchor="middle">14:00</text>
<text x="679.0" y="895.0" font-size="30.5" text-anchor="middle">Time UT</text>
<text x="132.5" y="223.8" font-size="30.5" text-anchor="end">18.1</text>
<text x="1221.0" y="223.8" font-size="30.5" text-anchor="start">80.5</text>
<text x="132.5" y="293.3" font-size="30.5" text-anchor="end">40.8</text>
<text x="1221.0" y="293.3" font-size="30.5" text-anchor="start">78.0</text>
<text x="132.5" y="376.9" font-size="30.5" text-anchor="end">61.6</text>
<text x="1221.0" y="376.9" font-size="30.5" text-anchor="start">77.1</text>
<text x="132.5" y="460.5" font-size="30.5" text-anchor="end">80.7</text>
<text x="1221.0" y="460.5" font-size="30.5" text-anchor="start">76.6</text>
<text x="132.5" y="544.0" font-size="30.5" text-anchor="end">81.3</text>
<text x="1221.0" y="544.0" font-size="30.5" text-anchor="start">76.2</text>
<text x="132.5" y="627.6" font-size="30.5" text-anchor="end">62.2</text>
<text x="1221.0" y="627.6" font-size="30.5" text-anchor="start">75.7</text>
<text x="132.5" y="711.2" font-size="30.5" text-anchor="end">41.2</text>
<text x="1221.0" y="711.2" font-size="30.5" text-anchor="start">74.9</text>
<text x="132.5" y="783.8" font-size="30.5" text-anchor="end">18.0</text>
<text x="1221.0" y="783.8" font-size="30.5" text-anchor="start">72.4</text>
<text transform="translate(39,490) rotate(-90)" font-size="30.5" text-anchor="middle">Elevation</text>
<text transform="translate(1323,490) rotate(-90)" font-size="30.5" text-anchor="middle">MLAT</text>
<text transform="translate(1505,490) rotate(-90)" font-size="30.5" text-anchor="middle">Brightness [kR]</text>
<rect x="1365.90" y="227.80" width="24.10" height="526.00" fill="url(#cb)" stroke="#000" stroke-width="3.6" stroke-linejoin="round"/>
<text x="1402.0" y="307.1" font-size="30.5" text-anchor="start">9.26</text>
<text x="1402.0" y="372.8" font-size="30.5" text-anchor="start">6.84</text>
<text x="1402.0" y="438.6" font-size="30.5" text-anchor="start">5.05</text>
<text x="1402.0" y="504.3" font-size="30.5" text-anchor="start">3.72</text>
<text x="1402.0" y="570.0" font-size="30.5" text-anchor="start">2.75</text>
<text x="1402.0" y="635.8" font-size="30.5" text-anchor="start">2.03</text>
<text x="1402.0" y="701.5" font-size="30.5" text-anchor="start">1.50</text>
<path d="M1365.90 293.55H1390.00M1365.90 359.30H1390.00M1365.90 425.05H1390.00M1365.90 490.80H1390.00M1365.90 556.55H1390.00M1365.90 622.30H1390.00M1365.90 688.05H1390.00" stroke="#000" stroke-width="2.6" fill="none"/>
</svg>
</body></html>
